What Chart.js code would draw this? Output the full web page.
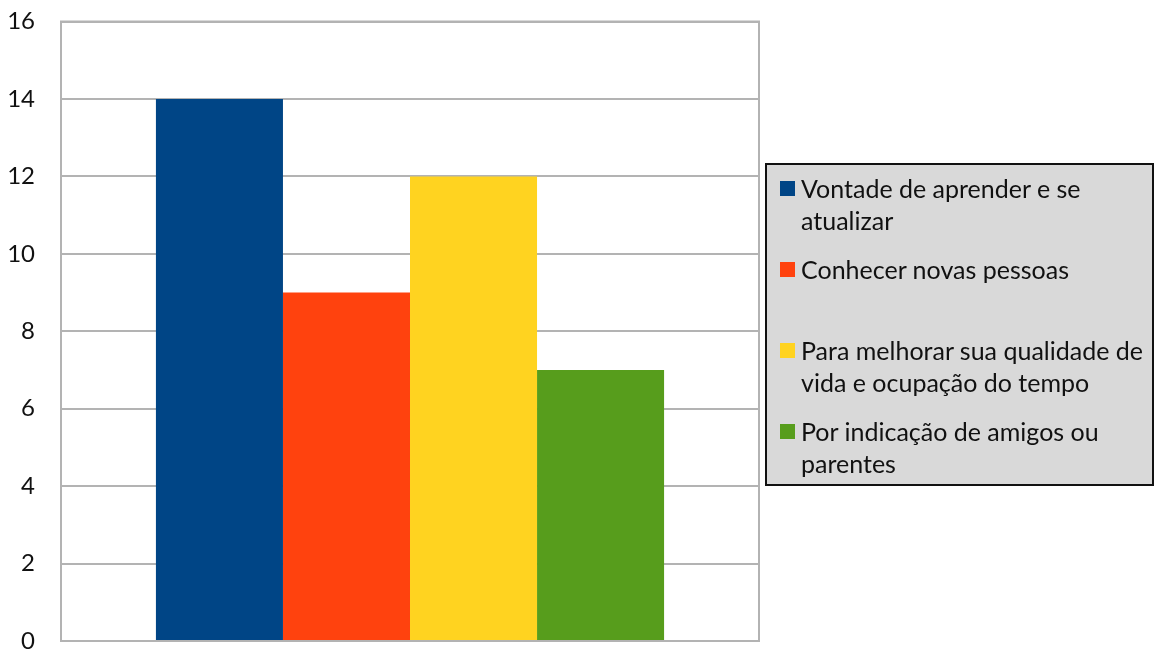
<!DOCTYPE html>
<html>
<head>
<meta charset="utf-8">
<script src="https://cdn.jsdelivr.net/npm/chart.js@4"></script>
<style>
  html, body { margin: 0; padding: 0; background: #fff; }
  #wrap { position: relative; width: 1157px; height: 650px; }
  #chart { position: absolute; left: 0; top: 0; }
  #legend {
    position: absolute; left: 765px; top: 163px;
    width: 389px; height: 323px; box-sizing: border-box;
    background: #d9d9d9; border: 2px solid #111;
    font-family: Lato, sans-serif; font-size: 25px; color: #111;
    padding-top: 7px;
  }
  #legend .item { position: relative; height: 81px; padding-left: 34px; line-height: 32px; white-space: nowrap; }
  #legend .box { position: absolute; left: 13px; top: 9px; width: 15px; height: 15px; }
</style>
</head>
<body>
<div id="wrap">
  <canvas id="chart" width="1157" height="650"></canvas>
  <div id="legend"></div>
</div>
<script>
// one category, four answers shown side by side
const categories = [''];
const seriesNames = [
  ['Vontade de aprender e se', 'atualizar'],
  ['Conhecer novas pessoas'],
  ['Para melhorar sua qualidade de', 'vida e ocupação do tempo'],
  ['Por indicação de amigos ou', 'parentes']
];
const seriesValues = [14, 9, 12, 7];
const seriesColors = ['#004586', '#ff420e', '#ffd320', '#579d1c'];
const yTicks = [0, 2, 4, 6, 8, 10, 12, 14, 16];

const datasets = seriesNames.map((lines, i) => ({
  label: lines.join(' '),
  lines: lines,
  data: [seriesValues[i]],
  backgroundColor: seriesColors[i],
  borderWidth: 0,
  barPercentage: 1,
  categoryPercentage: 0.728
}));

// frame around the plot area
const frame = {
  id: 'frame',
  afterDraw(chart) {
    const { ctx, chartArea: a } = chart;
    ctx.save();
    ctx.strokeStyle = '#b3b3b3';
    ctx.lineWidth = 2;
    ctx.strokeRect(a.left, a.top, a.right - a.left, a.bottom - a.top);
    ctx.restore();
  }
};

// legend written out as html from the chart's own legend items
const htmlLegend = {
  id: 'htmlLegend',
  afterUpdate(chart) {
    const el = document.getElementById('legend');
    el.innerHTML = '';
    chart.legend.legendItems.forEach(item => {
      const ds = chart.data.datasets[item.datasetIndex];
      const row = document.createElement('div');
      row.className = 'item';
      const box = document.createElement('span');
      box.className = 'box';
      box.style.background = item.fillStyle;
      row.appendChild(box);
      ds.lines.forEach((t, k) => {
        if (k) row.appendChild(document.createElement('br'));
        row.appendChild(document.createTextNode(t));
      });
      el.appendChild(row);
    });
  }
};

new Chart(document.getElementById('chart'), {
  type: 'bar',
  data: { labels: categories, datasets: datasets },
  plugins: [frame, htmlLegend],
  options: {
    responsive: false,
    animation: false,
    layout: { padding: { left: 0, right: 398, top: 21.5, bottom: 9 } },
    plugins: {
      legend: { display: false },
      tooltip: { enabled: false }
    },
    scales: {
      x: { display: false },
      y: {
        min: 0,
        max: 16,
        afterBuildTicks(scale) { scale.ticks = yTicks.map(v => ({ value: v })); },
        afterFit(scale) {
          scale.width = 61;
          scale.paddingTop = 0;
          scale.paddingBottom = 0;
        },
        border: { display: false },
        grid: { color: '#b3b3b3', lineWidth: 2, drawTicks: false },
        ticks: {
          padding: 26,
          color: '#111',
          font: { family: 'Lato', size: 24 }
        }
      }
    }
  }
});
</script>
</body>
</html>
